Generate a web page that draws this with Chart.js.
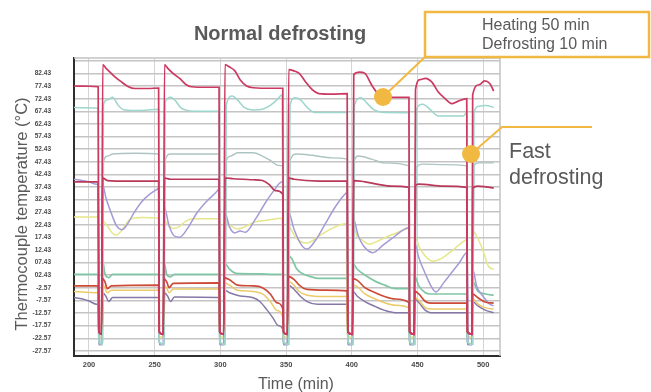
<!DOCTYPE html>
<html><head><meta charset="utf-8">
<script src="https://cdn.jsdelivr.net/npm/chart.js@4/dist/chart.umd.min.js"></script>
<style>html,body{margin:0;padding:0;background:#fff;}#wrap{width:651px;height:392px;position:relative;}</style>
</head><body><div id="wrap"><canvas id="c" width="651" height="392"></canvas></div>
<script>
// ---- tick labels ----
const yTickValues = [87.43, 82.43, 77.43, 72.43, 67.43, 62.43, 57.43, 52.43, 47.43, 42.43, 37.43, 32.43, 27.43, 22.43, 17.43, 12.43, 7.43, 2.43, -2.57, -7.57, -12.57, -17.57, -22.57, -27.57];
const yTickLabels = ['', '82.43', '77.43', '72.43', '67.43', '62.43', '57.43', '52.43', '47.43', '42.43', '37.43', '32.43', '27.43', '22.43', '17.43', '12.43', '07.43', '02.43', '-2.57', '-7.57', '-12.57', '-17.57', '-22.57', '-27.57'];
const xTickValues = [200, 250, 300, 350, 400, 450, 500];

// ---- series: [time (min), temperature (°C)] ----
const topCrimson = [[188.6,77.5],[200,77.4],[207,77.2],[207.5,-20],[209.5,-21],[210.5,86],[213,84.5],[216,83],[220,81],[225,79],[230,77.2],[235,76.5],[245,76.5],[253,76.7],[253.5,-20],[256.5,-21],[257.5,86],[260,84.5],[264,82.5],[269,80.5],[274,78],[278,77.2],[290,77],[299,77],[299.5,-20],[302.5,-21],[303.5,86],[307,85],[311,83.5],[315,80],[320,77.5],[325,76.8],[340,76.6],[347.5,76.6],[348,-20],[351,-21],[352,84],[356,83.5],[360,82.5],[365,79],[370,76],[375,74.5],[385,74.3],[396.5,74.5],[397,-20],[400.5,-21],[401.5,82],[406,83],[410,82.5],[415,78],[420,74.5],[430,73],[443.5,73],[444,-20],[447.5,-21],[448.5,76],[452,80],[456,80.5],[461,79],[466,75],[471,72.5],[476,70.5],[481,71.5],[487.5,72.5],[488,-20],[491.5,-21],[492,74],[497,78],[501,79.5],[505,78.5],[508,75.5]];
const tealTop = [[188.6,69],[206,68.8],[207,68.5],[207.5,-24],[210,-25],[211,70],[214,72],[218,73],[222,70],[227,68],[240,67.8],[253,68.3],[253.5,-24],[257,-25],[258,71],[262,73],[266,71.5],[270,68.8],[280,67.5],[299,67.5],[299.5,-24],[303.5,-25],[304.5,70],[309,73.5],[313,72],[318,69],[325,68],[332,68.3],[338,69.8],[343,72],[347,74],[348,-24],[352,-25],[353,70],[357,72.8],[361,72],[366,69],[372,67],[396.5,67],[397,-24],[401,-25],[402,70],[407,72.8],[411,71],[417,68],[425,67],[443.5,66.9],[444,-24],[448,-25],[449,68],[454,70.3],[460,68],[466,65.6],[485,65.6],[487.5,67],[488,-24],[492,-25],[493,67],[497,69.5],[502,69.8],[508,69]];
const grayTeal = [[208,-24],[210.5,-24],[211,47],[214,49.7],[218,50.5],[235,50.8],[253,50.5],[253.5,-24],[257,-25],[258,48],[262,50.5],[270,50.5],[299,50.5],[299.5,-24],[303.5,-25],[304.5,48],[308,49.7],[313,51],[325,51],[332,49.7],[338,48],[344,46],[347.5,45.8],[348,-24],[352,-25],[353,48],[358,50.5],[370,50],[385,49],[396.5,48.5],[397,-24],[401,-25],[402,48],[405,49.7],[415,48.5],[425,47],[443.5,45.8],[444,-24],[448,-25],[449,45],[454,46.5],[470,46.3],[487.5,45.8],[488,-24],[492,-25],[493,46],[497,47],[508,47]];
const midCrimson = [[188.6,39.5],[206,39.5],[207,39],[207.5,-20],[209.5,-21],[210.5,41],[214,40],[230,39.8],[253,39.8],[253.5,-20],[256.5,-21],[257.5,41],[262,40.5],[299,40.5],[299.5,-20],[302.5,-21],[303.5,41],[310,40.7],[325,40.3],[332,40],[337,38.5],[342,36],[347.5,34.5],[348,-20],[351,-21],[352,41],[356,40.5],[375,39.8],[396.5,39.8],[397,-20],[400.5,-21],[401.5,40],[410,39.5],[420,38.5],[430,37.8],[443.5,37.3],[444,-20],[447.5,-21],[448.5,38],[451,38.6],[470,37.8],[487.5,37.3],[488,-20],[491.5,-21],[492,37],[496,37.8],[502,37.5],[508,37]];
const purpleSaw = [[188.6,40.5],[200,39.5],[206,38.5],[207,38],[207.5,-25],[209.5,-25],[210,39],[213,33],[217,27],[221,22],[225,20.5],[229,22.5],[234,27],[240,31.5],[246,34.5],[252.5,36.8],[253,37],[253.5,-25],[256.5,-25],[257,30],[261,22],[265,18],[269,17.5],[275,21],[282,27],[290,32],[298.5,36.5],[299,37],[299.5,-25],[302.5,-25],[303,28],[307,21.5],[311,19.2],[315,20],[319,19.5],[327,25],[334,31],[340,35.5],[347,39.5],[347.5,39.5],[348,-25],[351,-25],[351.5,28],[356,20.8],[361,15],[366,12.8],[372,16],[380,23],[388,30],[396,35.2],[396.5,35.3],[397,-25],[400.5,-25],[401,25],[405,18],[409,14],[416,11.4],[424,14.5],[433,18],[438,20],[443,21.3],[443.5,21.3],[444,-25],[447.5,-25],[448,15],[451,9.5],[456,3],[461,-2.5],[464,-4.2],[470,-0.5],[476,3.5],[482,7.5],[487.5,11.4],[488,11.4],[488.5,-25],[491.5,-25],[492,5],[495,-1.8],[500,-6],[505,-9],[508,-9.7]];
const yellowMid = [[188.6,25.5],[206,25.5],[207,25],[207.5,-22],[209.5,-22],[210,24],[214,22],[218,19],[221,18.4],[226,21],[231,24.5],[240,25.3],[253,25],[253.5,-22],[256.5,-22],[257,24],[261,22],[264,21],[268,21.5],[274,24],[280,24.8],[299,24.8],[299.5,-22],[302.5,-22],[303,24],[308,22],[313,20.8],[318,21.5],[326,23.5],[335,24.2],[347,25],[347.5,-22],[351,-22],[351.5,22],[357,17.7],[362,15.5],[366,15.2],[375,18],[385,21],[396,23],[396.5,-22],[400.5,-22],[401,22],[404,18],[408,16.4],[413,14.7],[420,16],[428,18],[434,19.2],[443.5,21],[444,-22],[447.5,-22],[448,18],[451,14],[456,10],[462,8],[468,9],[476,12],[484,15.5],[487.5,16.5],[488,-22],[491.5,-22],[492,20],[495,18],[500,12],[504,6],[508,4.8]];
const greenLow = [[188.6,2.8],[206,2.8],[207,2.5],[207.5,-24],[210,-25],[210.5,8],[212,3.2],[215,1.5],[218,2.8],[253,2.8],[253.5,-24],[257,-25],[257.5,7],[259,3],[262,1.8],[265,2.8],[299,2.8],[299.5,-24],[303,-25],[303.5,7],[307,4.9],[312,3.2],[330,3],[340,2.8],[347.5,2.8],[348,-24],[351.5,-25],[352,10],[354.5,8.9],[358,5],[362,3.2],[368,2],[374,1.2],[396.5,1.2],[397,-24],[400.5,-25],[401,7],[404,4.9],[410,2.5],[418,0],[425,-1.5],[433,-2.9],[443.5,-2.9],[444,-24],[447.5,-25],[448,2],[451,-1.8],[456,-4.5],[460,-5],[487.5,-5],[488,-24],[491.5,-25],[492,0],[496,-4],[502,-5],[508,-5.5]];
const redOrange = [[188.6,-1.8],[206,-1.8],[207,-2],[207.5,-20],[209.5,-21],[210,1.2],[212,0],[214,-2.9],[217,-1.8],[253,-1.5],[253.5,-20],[256.5,-21],[257,1],[259,0],[261,-2.5],[264,-0.8],[299,-0.6],[299.5,-20],[302.5,-21],[303,1.5],[307,0.6],[313,-1.5],[325,-1.8],[332,-2.5],[338,-5],[343,-8.5],[347.5,-10.9],[348,-20],[351,-21],[351.5,2],[356,0.8],[360,-1.5],[366,-3.2],[380,-3.5],[396.5,-3.8],[397,-20],[400.5,-21],[401,1],[404,0.5],[410,-2.5],[418,-4.5],[425,-6],[433,-7],[443.5,-8.4],[444,-20],[447.5,-21],[448,-4],[451,-5],[456,-8],[460,-8.6],[487.5,-8.6],[488,-20],[491.5,-21],[492,-5],[496,-6.5],[502,-8.3],[508,-8.6]];
const yellowLow = [[188.6,-4],[206,-4.5],[207,-4.5],[207.5,-22],[209.5,-22],[210,-1],[212,-2.5],[214,-4.6],[217,-3.5],[253,-3.5],[253.5,-22],[256.5,-22],[257,-1.5],[259,-2.5],[261,-4.5],[264,-3],[299,-3],[299.5,-22],[302.5,-22],[303,-0.5],[307,-1.5],[313,-3.5],[325,-4],[332,-5],[338,-8],[343,-11.5],[347.5,-14.4],[348,-22],[351,-22],[351.5,0],[356,-1.5],[360,-4],[366,-5.5],[380,-6],[396.5,-6],[397,-22],[400.5,-22],[401,-1.5],[404,-2],[410,-5],[418,-7],[425,-8.5],[433,-9.5],[443.5,-10.5],[444,-22],[447.5,-22],[448,-6.5],[451,-7.5],[456,-10.5],[460,-11],[487.5,-11],[488,-22],[491.5,-22],[492,-7],[496,-9],[502,-10.5],[508,-11]];
const purpleGray = [[188.6,-6.4],[195,-7],[200,-7.8],[206,-9.1],[207,-9.5],[207.5,-25],[210,-25],[210.5,-4.5],[213,-6],[215,-8],[218,-6.4],[253,-6.4],[253.5,-25],[257,-25],[257.5,-4.5],[260,-6],[262,-8],[265,-6.2],[299,-6.4],[299.5,-25],[303,-25],[303.5,-3.5],[307,-4.5],[315,-5.8],[325,-6.5],[330,-8],[335,-11],[340,-14.5],[344,-17.5],[347.5,-19],[348,-25],[351.5,-25],[352,-1.5],[356,-3.1],[361,-6],[366,-8],[374,-9.1],[396.5,-9.1],[397,-25],[400.5,-25],[401,-4],[404,-5.8],[410,-8],[418,-10],[425,-11.5],[433,-12.4],[443.5,-12.4],[444,-25],[447.5,-25],[448,-7],[451,-8.4],[456,-11.5],[460,-12.4],[487.5,-12.4],[488,-25],[491.5,-25],[492,-8],[496,-9.7],[502,-11.5],[508,-12.4]];

const seriesList = [
  {data: topCrimson, color: '#cc3a62', w: 1.7},
  {data: midCrimson, color: '#b8395a', w: 1.7},
  {data: redOrange, color: '#cc4a36', w: 1.7},
  {data: tealTop, color: '#9dd6cd', w: 1.5},
  {data: grayTeal, color: '#adc4c2', w: 1.4},
  {data: purpleSaw, color: '#a59ad6', w: 1.5},
  {data: yellowMid, color: '#e6e68a', w: 1.5},
  {data: greenLow, color: '#7fc6a4', w: 1.7},
  {data: yellowLow, color: '#ecca6a', w: 1.5},
  {data: purpleGray, color: '#8578a6', w: 1.5}
];

const gold = '#f1b942';
const textGray = '#5a5a5a';

const annot = {
  id: 'annot',
  beforeDatasetsDraw(chart) {
    const {ctx, chartArea: a} = chart;
    ctx.save();
    ctx.strokeStyle = '#c2c2c2';
    ctx.lineWidth = 1.5;
    ctx.beginPath();
    ctx.moveTo(a.left, a.top); ctx.lineTo(a.right, a.top); ctx.lineTo(a.right, a.bottom);
    ctx.stroke();
    ctx.restore();
  },
  afterDraw(chart) {
    const {ctx} = chart;
    ctx.save();
    ctx.fillStyle = textGray;
    ctx.textBaseline = 'alphabetic';
    ctx.textAlign = 'center';
    ctx.font = 'bold 20px "Liberation Sans", Arial, sans-serif';
    ctx.fillText('Normal defrosting', 280, 40);
    ctx.font = '16px "Liberation Sans", Arial, sans-serif';
    ctx.fillText('Time (min)', 296, 389);
    ctx.save();
    ctx.translate(27, 214);
    ctx.rotate(-Math.PI / 2);
    ctx.font = '16.5px "Liberation Sans", Arial, sans-serif';
    ctx.fillText('Thermocouple temperature (\u00B0C)', 0, 0);
    ctx.restore();
    // box
    ctx.fillStyle = '#ffffff';
    ctx.fillRect(425, 12, 224, 45);
    ctx.strokeStyle = gold;
    ctx.lineWidth = 2.5;
    ctx.strokeRect(425, 12, 224, 45);
    ctx.fillStyle = textGray;
    ctx.textAlign = 'left';
    ctx.font = '16px "Liberation Sans", Arial, sans-serif';
    ctx.fillText('Heating 50 min', 482, 29.5);
    ctx.fillText('Defrosting 10 min', 482, 49);
    // connectors
    ctx.lineWidth = 2;
    ctx.beginPath();
    ctx.moveTo(425, 57); ctx.lineTo(383, 97);
    ctx.moveTo(592, 127); ctx.lineTo(502, 127); ctx.lineTo(471, 154);
    ctx.stroke();
    ctx.fillStyle = gold;
    ctx.beginPath(); ctx.arc(383, 97, 9, 0, Math.PI * 2); ctx.fill();
    ctx.beginPath(); ctx.arc(471, 154, 9, 0, Math.PI * 2); ctx.fill();
    ctx.fillStyle = textGray;
    ctx.font = '21.5px "Liberation Sans", Arial, sans-serif';
    ctx.fillText('Fast', 509, 158);
    ctx.fillText('defrosting', 509, 184);
    ctx.restore();
  }
};

new Chart(document.getElementById('c'), {
  type: 'line',
  data: {
    datasets: seriesList.map(s => ({
      data: s.data.map(p => ({x: p[0], y: p[1]})),
      borderColor: s.color,
      borderWidth: s.w,
      pointRadius: 0,
      fill: false,
      tension: 0,
      cubicInterpolationMode: 'monotone'
    }))
  },
  options: {
    responsive: false,
    devicePixelRatio: 1,
    animation: false,
    layout: {padding: {left: 0, right: 151, top: 58, bottom: 0}},
    plugins: {legend: {display: false}, tooltip: {enabled: false}, title: {display: false}},
    scales: {
      x: {
        type: 'linear', min: 188.6, max: 512.8,
        afterBuildTicks: sc => { sc.ticks = xTickValues.map(v => ({value: v})); },
        afterFit: sc => { sc.height = 36; },
        grid: {color: '#d4d4d4', lineWidth: 1, drawTicks: false},
        border: {display: true, color: '#2e2e2e', width: 2},
        ticks: {padding: 4, color: '#4a4a4a', font: {family: '"Liberation Sans", Arial, sans-serif', size: 7.5, weight: 'bold'}, callback: v => String(v)}
      },
      y: {
        type: 'linear', min: -29.6, max: 88.6,
        afterBuildTicks: sc => { sc.ticks = yTickValues.map(v => ({value: v})); },
        afterFit: sc => { sc.width = 74; },
        grid: {color: '#c4c4c4', lineWidth: 1.5, drawTicks: false},
        border: {display: true, color: '#2e2e2e', width: 2},
        ticks: {padding: 23, color: '#4a4a4a', font: {family: '"Liberation Sans", Arial, sans-serif', size: 6.5, weight: 'bold'},
          callback: (v) => { const i = yTickValues.indexOf(v); return i >= 0 ? yTickLabels[i] : ''; }}
      }
    }
  },
  plugins: [annot]
});
</script></body></html>
